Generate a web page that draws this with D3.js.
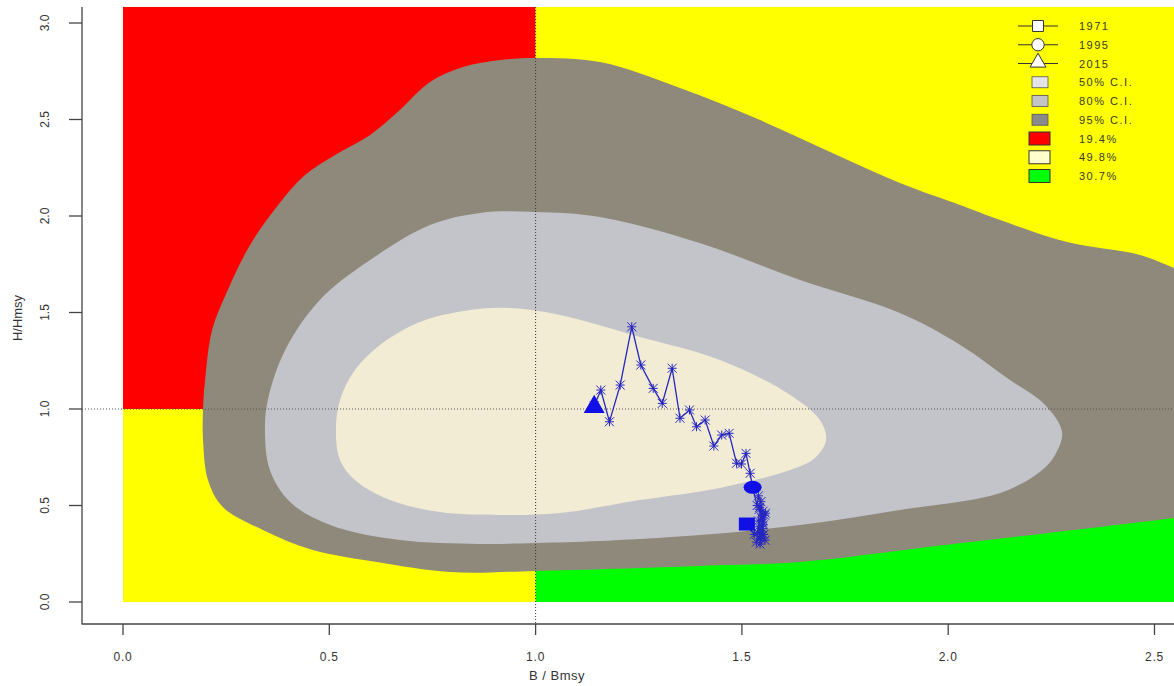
<!DOCTYPE html>
<html>
<head>
<meta charset="utf-8">
<script src="https://cdn.jsdelivr.net/npm/d3@7"></script>
<style>
  body { margin: 0; background: #fff; }
  svg { display: block; font-family: "Liberation Sans", Arial, sans-serif; }
</style>
</head>
<body>
<svg id="chart" width="1174" height="686"></svg>
<script>
// trajectory B/Bmsy and H/Hmsy by year
const years = d3.range(1971, 2016);
const bRatio = [1.512, 1.530, 1.545, 1.540, 1.550, 1.535, 1.548, 1.555, 1.542, 1.552,
  1.538, 1.556, 1.547, 1.551, 1.540, 1.553, 1.544, 1.549, 1.557, 1.543,
  1.550, 1.546, 1.540, 1.537, 1.526, 1.520, 1.510, 1.499, 1.487, 1.469,
  1.451, 1.432, 1.411, 1.390, 1.373, 1.350, 1.331, 1.307, 1.285, 1.255,
  1.233, 1.205, 1.179, 1.158, 1.142];
const hRatio = [0.404, 0.350, 0.330, 0.420, 0.380, 0.310, 0.340, 0.450, 0.480, 0.400,
  0.360, 0.320, 0.440, 0.470, 0.390, 0.350, 0.300, 0.430, 0.460, 0.490,
  0.410, 0.520, 0.550, 0.500, 0.594, 0.667, 0.770, 0.715, 0.719, 0.874,
  0.865, 0.808, 0.943, 0.908, 0.995, 0.952, 1.211, 1.029, 1.107, 1.228,
  1.426, 1.124, 0.934, 1.098, 1.016];

// confidence region outlines [B, H]
const ci95 = [[1.001,2.819],[1.156,2.798],[1.350,2.663],[1.544,2.497],[1.714,2.332],[1.883,2.171],
  [2.029,2.057],[2.126,1.979],[2.288,1.865],[2.465,1.798],[2.547,1.731],[2.683,1.617],[2.683,0.477],
  [2.547,0.435],[2.368,0.389],[1.970,0.290],[1.641,0.207],[1.398,0.187],[1.001,0.161],[0.793,0.155],
  [0.616,0.207],[0.460,0.269],[0.339,0.373],[0.242,0.492],[0.206,0.632],[0.194,0.839],[0.194,1.000],
  [0.199,1.150],[0.216,1.409],[0.254,1.617],[0.308,1.850],[0.376,2.057],[0.441,2.212],[0.514,2.316],
  [0.599,2.420],[0.671,2.549],[0.744,2.694],[0.824,2.772],[0.914,2.808]];
const ci80 = [[1.001,2.021],[1.156,1.995],[1.398,1.860],[1.641,1.668],[1.883,1.497],[2.029,1.332],
  [2.150,1.150],[2.235,1.021],[2.276,0.881],[2.259,0.762],[2.222,0.674],[2.126,0.565],[1.883,0.477],
  [1.641,0.399],[1.398,0.347],[1.156,0.316],[1.001,0.306],[0.865,0.301],[0.671,0.321],[0.502,0.399],
  [0.405,0.518],[0.356,0.684],[0.344,0.891],[0.351,1.047],[0.393,1.306],[0.477,1.565],[0.599,1.772],
  [0.744,1.953],[0.865,2.016]];
const ci50 = [[0.516,0.891],[0.526,1.047],[0.562,1.202],[0.623,1.332],[0.720,1.451],[0.841,1.513],
  [0.938,1.523],[1.059,1.487],[1.253,1.373],[1.447,1.254],[1.617,1.073],[1.689,0.943],[1.704,0.839],
  [1.677,0.746],[1.617,0.684],[1.447,0.591],[1.253,0.528],[1.059,0.461],[0.914,0.451],[0.768,0.466],
  [0.647,0.528],[0.562,0.632],[0.526,0.736]];

const xTicks = [0, 0.5, 1, 1.5, 2, 2.5];
const yTicks = [0, 0.5, 1, 1.5, 2, 2.5, 3];
const legendYears = ["1971", "1995", "2015"];
const ciLabels = ["50% C.I.", "80% C.I.", "95% C.I."];
const quadLabels = ["19.4%", "49.8%", "30.7%"];

const svg = d3.select("#chart");
const x = d3.scaleLinear().domain([0, 2.5]).range([123, 1154.5]);
const y = d3.scaleLinear().domain([0, 3]).range([602, 23]);
const bMax = 2.75, hMax = 3.083;

svg.append("clipPath").attr("id", "plotclip")
  .append("rect").attr("x", 82).attr("y", 0).attr("width", 1100).attr("height", 624);

const plot = svg.append("g").attr("clip-path", "url(#plotclip)");

// kobe quadrants
const quads = [
  {b0: 0, b1: 1, h0: 1, h1: hMax, fill: "#ff0000"},
  {b0: 1, b1: bMax, h0: 1, h1: hMax, fill: "#ffff00"},
  {b0: 0, b1: 1, h0: 0, h1: 1, fill: "#ffff00"},
  {b0: 1, b1: bMax, h0: 0, h1: 1, fill: "#00ff00"}
];
plot.selectAll("rect.quad").data(quads).enter().append("rect")
  .attr("class", "quad")
  .attr("x", d => x(d.b0)).attr("y", d => y(d.h1))
  .attr("width", d => x(d.b1) - x(d.b0)).attr("height", d => y(d.h0) - y(d.h1))
  .attr("fill", d => d.fill);

// confidence regions
const area = d3.line().x(d => x(d[0])).y(d => y(d[1])).curve(d3.curveCatmullRomClosed.alpha(0.5));
plot.append("path").attr("d", area(ci95)).attr("fill", "#8e897a");
plot.append("path").attr("d", area(ci80)).attr("fill", "#c3c3ca");
plot.append("path").attr("d", area(ci50)).attr("fill", "#f1ecd3");

// reference lines
plot.append("line").attr("x1", x(1)).attr("x2", x(1)).attr("y1", 7).attr("y2", 624)
  .attr("stroke", "#333").attr("stroke-width", 1).attr("stroke-dasharray", "1,2");
plot.append("line").attr("x1", 82).attr("x2", 1174).attr("y1", y(1)).attr("y2", y(1))
  .attr("stroke", "#555").attr("stroke-width", 1).attr("stroke-dasharray", "1,2");

// trajectory
const traj = years.map((yr, i) => ({year: yr, b: bRatio[i], h: hRatio[i]}));
const blue = "#2626c0";
plot.append("path")
  .attr("d", d3.line().x(d => x(d.b)).y(d => y(d.h))(traj))
  .attr("fill", "none").attr("stroke", blue).attr("stroke-width", 1.3);

const star = plot.selectAll("g.star").data(traj).enter().append("g")
  .attr("class", "star")
  .attr("transform", d => `translate(${x(d.b)},${y(d.h)})`)
  .attr("stroke", blue).attr("stroke-width", 1);
const s = 4.5;
star.append("line").attr("x1", -s).attr("x2", s).attr("y1", 0).attr("y2", 0);
star.append("line").attr("x1", 0).attr("x2", 0).attr("y1", -s).attr("y2", s);
star.append("line").attr("x1", -s).attr("x2", s).attr("y1", -s).attr("y2", s);
star.append("line").attr("x1", -s).attr("x2", s).attr("y1", s).attr("y2", -s);

const first = traj[0], mid = traj.find(d => d.year === 1995), last = traj[traj.length - 1];
const markFill = "#0f0fe6";
plot.append("rect").attr("x", x(first.b) - 8).attr("y", y(first.h) - 6.5)
  .attr("width", 16).attr("height", 13).attr("fill", markFill);
plot.append("ellipse").attr("cx", x(mid.b)).attr("cy", y(mid.h)).attr("rx", 9).attr("ry", 6.5)
  .attr("fill", markFill);
plot.append("path")
  .attr("d", d3.symbol(d3.symbolTriangle, 190)())
  .attr("transform", `translate(${x(last.b)},${y(last.h) + 1})`)
  .attr("fill", markFill);

// axes
const axisColor = "#444";
svg.append("line").attr("x1", 82).attr("x2", 82).attr("y1", 7).attr("y2", 624.5)
  .attr("stroke", axisColor).attr("stroke-width", 1.3);
svg.append("line").attr("x1", 82).attr("x2", 1174).attr("y1", 624).attr("y2", 624)
  .attr("stroke", axisColor).attr("stroke-width", 1.3);

const xAxis = svg.append("g");
xAxis.selectAll("line").data(xTicks).enter().append("line")
  .attr("x1", d => x(d)).attr("x2", d => x(d)).attr("y1", 624).attr("y2", 635)
  .attr("stroke", axisColor).attr("stroke-width", 1.3);
xAxis.selectAll("text").data(xTicks).enter().append("text")
  .attr("x", d => x(d)).attr("y", 661).attr("text-anchor", "middle")
  .attr("font-size", 12).attr("fill", "#333").attr("letter-spacing", "0.8px")
  .text(d => d3.format(".1f")(d));

const yAxis = svg.append("g");
yAxis.selectAll("line").data(yTicks).enter().append("line")
  .attr("x1", 69).attr("x2", 82).attr("y1", d => y(d)).attr("y2", d => y(d))
  .attr("stroke", axisColor).attr("stroke-width", 1.3);
yAxis.selectAll("text").data(yTicks).enter().append("text")
  .attr("transform", d => `translate(49,${y(d)}) rotate(-90)`)
  .attr("text-anchor", "middle").attr("font-size", 12).attr("fill", "#333")
  .text(d => d3.format(".1f")(d));

svg.append("text").attr("x", 557).attr("y", 680).attr("text-anchor", "middle")
  .attr("font-size", 13).attr("fill", "#333").attr("letter-spacing", "0.5px").text("B / Bmsy");
svg.append("text").attr("transform", "translate(22,318) rotate(-90)")
  .attr("text-anchor", "middle").attr("font-size", 13).attr("fill", "#333").text("H/Hmsy");

// legend
const leg = svg.append("g");
const rowY = i => 26 + i * 18.75;
const labelX = 1079;
const txtColor = "#3a3a2a";
const symbols = [d3.symbolSquare, d3.symbolCircle, d3.symbolTriangle];
legendYears.forEach((lab, i) => {
  leg.append("line").attr("x1", 1018).attr("x2", 1058).attr("y1", rowY(i)).attr("y2", rowY(i))
    .attr("stroke", "#333").attr("stroke-width", 1);
  leg.append("path").attr("d", d3.symbol(symbols[i], i === 2 ? 110 : 120)())
    .attr("transform", `translate(1038,${rowY(i) + (i === 2 ? -1 : 0)})`)
    .attr("fill", "#fff").attr("stroke", "#333").attr("stroke-width", 1);
  leg.append("text").attr("x", labelX).attr("y", rowY(i) + 4).attr("font-size", 11)
    .attr("letter-spacing", "1.5px").attr("fill", txtColor).text(lab);
});
const ciFills = ["#e4e4e4", "#c4c4c4", "#8a8a8a"];
ciLabels.forEach((lab, i) => {
  const r = i + 3;
  leg.append("rect").attr("x", 1032).attr("y", rowY(r) - 5.5).attr("width", 16).attr("height", 11)
    .attr("fill", ciFills[i]).attr("stroke", "#555").attr("stroke-width", 0.8);
  leg.append("text").attr("x", labelX).attr("y", rowY(r) + 4).attr("font-size", 11)
    .attr("letter-spacing", "1.5px").attr("fill", txtColor).text(lab);
});
const quadFills = ["#ff0000", "#ffffcc", "#00ff00"];
quadLabels.forEach((lab, i) => {
  const r = i + 6;
  leg.append("rect").attr("x", 1029).attr("y", rowY(r) - 6.5).attr("width", 21).attr("height", 13)
    .attr("fill", quadFills[i]).attr("stroke", "#333").attr("stroke-width", 1);
  leg.append("text").attr("x", labelX).attr("y", rowY(r) + 4).attr("font-size", 11)
    .attr("letter-spacing", "1.5px").attr("fill", txtColor).text(lab);
});
</script>
</body>
</html>
